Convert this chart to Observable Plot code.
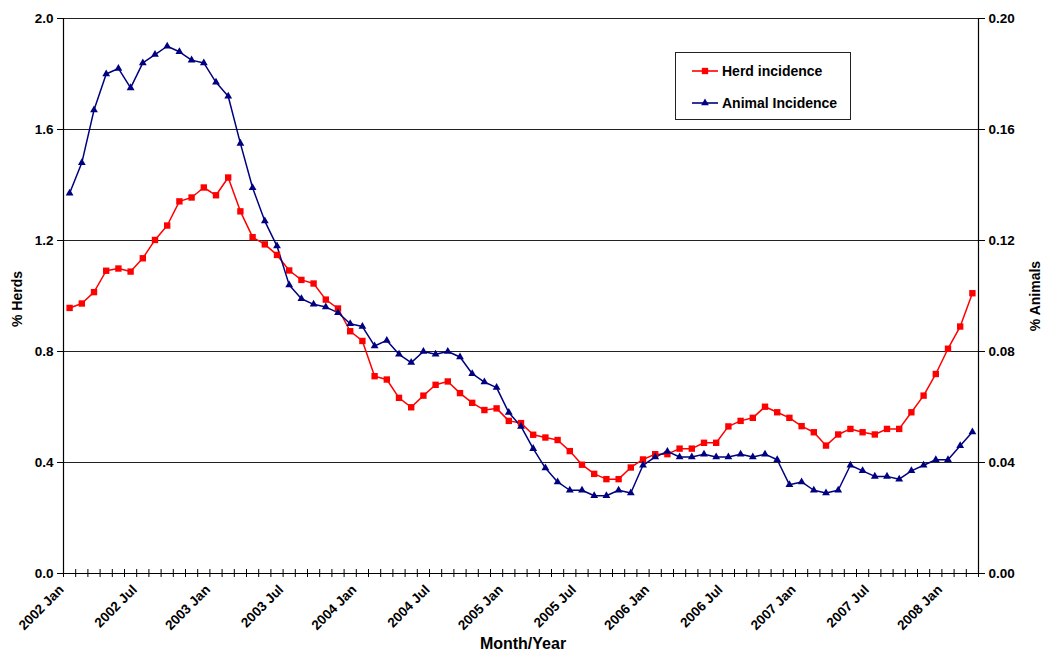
<!DOCTYPE html>
<html><head><meta charset="utf-8">
<script src="https://cdn.jsdelivr.net/npm/d3@7"></script>
<script src="https://cdn.jsdelivr.net/npm/@observablehq/plot@0.6"></script>
<style>
body{margin:0;background:#fff;font-family:Arial,"Liberation Sans",sans-serif;}
#wrap{position:relative;width:1043px;height:650px;}
#legend{position:absolute;left:675px;top:52px;width:176px;height:68px;border:1px solid #222;box-sizing:border-box;background:#fff;font-weight:bold;font-size:14px;color:#000;}
#legend .row{position:absolute;left:16px;display:flex;align-items:center;white-space:nowrap;}
#legend svg{margin-right:4px;}
</style></head><body><div id="wrap"><div id="legend"></div></div>
<script>
// categories: monthly, 2002 Jan .. 2008 Mar
const monthNames = ["Jan","Feb","Mar","Apr","May","Jun","Jul","Aug","Sep","Oct","Nov","Dec"];
const years = [2002, 2003, 2004, 2005, 2006, 2007, 2008];
const months = years.flatMap(y => monthNames.map(m => `${y} ${m}`)).slice(0, 75);
const tickLabels = ["2002 Jan","2002 Jul","2003 Jan","2003 Jul","2004 Jan","2004 Jul","2005 Jan","2005 Jul","2006 Jan","2006 Jul","2007 Jan","2007 Jul","2008 Jan"];

// % Herds (left axis)
const herd = [
  0.957,0.973,1.014,1.091,1.099,1.088,1.136,1.202,1.254,1.341,
  1.355,1.391,1.363,1.427,1.305,1.212,1.186,1.148,1.092,1.058,
  1.045,0.987,0.955,0.873,0.838,0.711,0.699,0.633,0.599,0.641,
  0.680,0.692,0.650,0.615,0.589,0.595,0.550,0.542,0.500,0.490,
  0.481,0.441,0.392,0.359,0.340,0.340,0.382,0.411,0.430,0.430,
  0.450,0.450,0.471,0.471,0.530,0.550,0.561,0.601,0.581,0.561,
  0.531,0.509,0.461,0.501,0.521,0.509,0.501,0.521,0.521,0.581,
  0.641,0.719,0.810,0.890,1.010
];
// % Animals (right axis)
const animal = [
  0.137,0.148,0.167,0.180,0.182,0.175,0.184,0.187,0.190,0.188,
  0.185,0.184,0.177,0.172,0.155,0.139,0.127,0.118,0.104,0.099,
  0.097,0.096,0.094,0.090,0.089,0.082,0.084,0.079,0.076,0.080,
  0.079,0.080,0.078,0.072,0.069,0.067,0.058,0.053,0.045,0.038,
  0.033,0.030,0.030,0.028,0.028,0.030,0.029,0.039,0.042,0.044,
  0.042,0.042,0.043,0.042,0.042,0.043,0.042,0.043,0.041,0.032,
  0.033,0.030,0.029,0.030,0.039,0.037,0.035,0.035,0.034,0.037,
  0.039,0.041,0.041,0.046,0.051
];
const yTicks = [0, 0.4, 0.8, 1.2, 1.6, 2.0];
const ratio = 10; // left axis = right axis * 10

const data = months.map((m, i) => ({i, m, herd: herd[i], animal: animal[i]}));
const bounds = d3.range(months.length + 1).map(k => k - 0.5);
const RED = "#FF0000", NAVY = "#000080";
const font = {fontSize: 13.5, fontWeight: "bold", fill: "#000"};

const chart = Plot.plot({
  width: 1043, height: 650,
  marginLeft: 63, marginRight: 65, marginTop: 18, marginBottom: 77,
  style: {fontFamily: "Arial, 'Liberation Sans', sans-serif", background: "#fff", overflow: "visible"},
  x: {type: "linear", domain: [-0.5, months.length - 0.5], axis: null},
  y: {domain: [0, 2], axis: null},
  marks: [
    Plot.ruleY(yTicks.filter(d => d > 0), {stroke: "#222", strokeWidth: 1}),
    Plot.ruleX([-0.5, months.length - 0.5], {stroke: "#000", strokeWidth: 1.2}),
    Plot.ruleY([0], {stroke: "#000", strokeWidth: 1.2}),
    Plot.ruleX(bounds, {x: d => d, y1: () => 0, y2: () => 0, insetTop: -4, insetBottom: -4, stroke: "#000"}),
    Plot.axisY({ticks: yTicks, tickFormat: d3.format(".1f"), tickSize: 6, tickPadding: 4, label: null, ...font}),
    Plot.axisY({anchor: "right", ticks: yTicks, tickFormat: d => (d / ratio).toFixed(2), tickSize: 6, tickPadding: 4, label: null, ...font}),
    Plot.line(data, {x: "i", y: "herd", stroke: RED, strokeWidth: 1.5}),
    Plot.line(data, {x: "i", y: d => d.animal * ratio, stroke: NAVY, strokeWidth: 1.5}),
    Plot.dot(data, {x: "i", y: "herd", symbol: "square", r: 3.6, fill: RED}),
    Plot.dot(data, {x: "i", y: d => d.animal * ratio, symbol: "triangle", r: 2.9, fill: NAVY}),
    Plot.text(tickLabels, {x: d => months.indexOf(d), y: () => 0, text: d => d, rotate: -45, textAnchor: "end", lineAnchor: "bottom", dx: -5, dy: 17, ...font}),
    Plot.text(["% Herds"], {frameAnchor: "left", textAnchor: "middle", dx: -46, dy: 3, rotate: -90, text: d => d, ...font, fontSize: 14}),
    Plot.text(["% Animals"], {frameAnchor: "right", textAnchor: "middle", dx: 57, dy: 0, rotate: -90, text: d => d, ...font, fontSize: 14}),
    Plot.text(["Month/Year"], {frameAnchor: "bottom", textAnchor: "middle", dx: 2, dy: 75, text: d => d, ...font, fontSize: 16})
  ]
});
document.getElementById("wrap").prepend(chart);

// legend
const legend = document.getElementById("legend");
const entries = [
  {label: "Herd incidence", color: RED, symbol: d3.symbolSquare, size: 40, top: 9},
  {label: "Animal Incidence", color: NAVY, symbol: d3.symbolTriangle, size: 26, top: 41}
];
for (const e of entries) {
  const row = document.createElement("div");
  row.className = "row";
  row.style.top = e.top + "px";
  const path = d3.symbol(e.symbol, e.size)();
  row.innerHTML = `<svg width="26" height="18"><line x1="0" x2="26" y1="9" y2="9" stroke="${e.color}" stroke-width="1.6"/><path d="${path}" transform="translate(13,9)" fill="${e.color}"/></svg><span>${e.label}</span>`;
  legend.appendChild(row);
}
</script>
</body></html>
